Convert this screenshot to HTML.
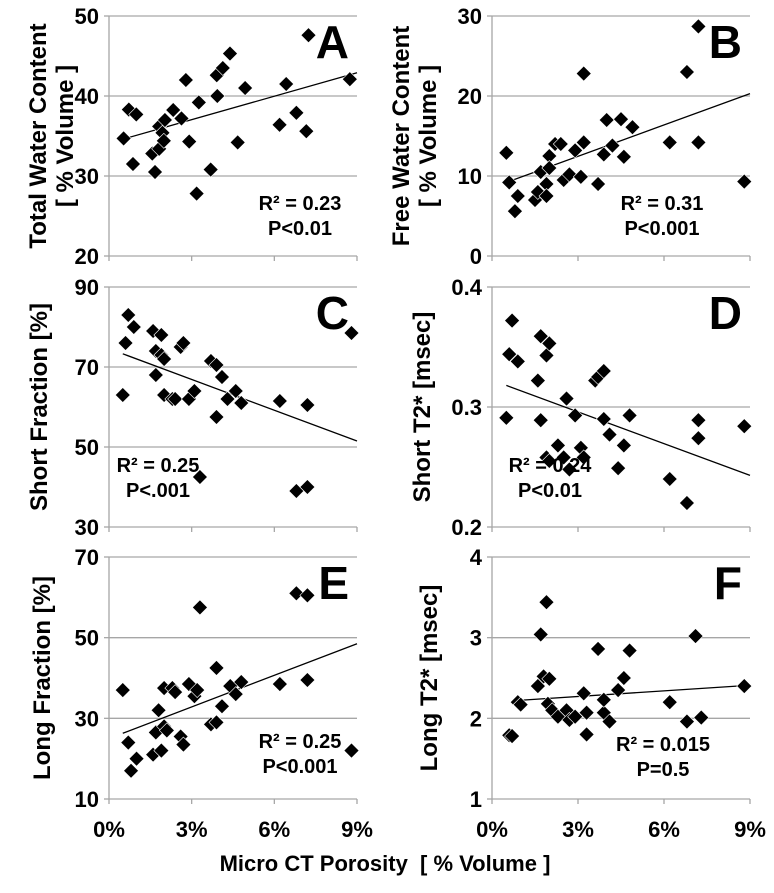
<!DOCTYPE html>
<html><head><meta charset="utf-8"><style>
body{margin:0;background:#fff;}
svg{display:block;font-family:"Liberation Sans",Arial,sans-serif;font-weight:bold;}
</style></head><body>
<svg id="c" width="774" height="893" viewBox="0 0 774 893" xmlns="http://www.w3.org/2000/svg"></svg>
<script>
const xTicks=[0,3,6,9];
const xA=[0.53,0.72,0.87,0.99,1.57,1.67,1.82,1.82,1.94,1.99,2.03,2.33,2.63,2.79,2.91,3.18,3.26,3.69,3.91,3.93,4.13,4.39,4.67,4.94,6.19,6.43,6.8,7.16,7.24,8.74];
const yA=[34.7,38.3,31.5,37.7,32.8,30.5,36.2,33.4,35.4,34.4,37,38.25,37.2,42,34.3,27.8,39.2,30.8,42.6,40,43.5,45.3,34.2,41,36.4,41.5,37.9,35.6,47.6,42.1];
const xB=[0.5,0.6,0.8,0.9,1.5,1.6,1.7,1.9,1.9,2.0,2.0,2.2,2.4,2.5,2.7,2.9,3.1,3.2,3.2,3.7,3.9,4.0,4.2,4.5,4.6,4.9,6.2,6.8,7.2,7.2,8.8];
const yB=[12.9,9.2,5.6,7.5,7.0,8.0,10.5,9.0,7.5,12.5,11.0,14.0,14.0,9.5,10.2,13.2,9.9,14.2,22.8,9.0,12.7,17.0,13.8,17.1,12.4,16.1,14.2,23.0,28.7,14.2,9.3];
const xC=[0.5,0.6,0.7,0.9,1.6,1.7,1.7,1.9,1.9,2.0,2.0,2.3,2.4,2.6,2.7,2.9,3.1,3.3,3.7,3.9,3.9,4.1,4.3,4.6,4.8,6.2,6.8,7.2,7.2,8.8];
const yC=[63,76,83,80,79,74,68,78,73,72,63,62,62,75,76,62,64,42.5,71.5,57.5,70.5,67.5,62,64,61,61.5,39,40,60.5,78.5];
const xD=[0.5,0.6,0.7,0.9,1.6,1.7,1.7,1.9,1.9,2.0,2.0,2.3,2.5,2.6,2.7,2.9,3.1,3.2,3.6,3.7,3.9,3.9,4.1,4.4,4.6,4.8,6.2,6.8,7.2,7.2,8.8];
const yD=[0.291,0.344,0.372,0.338,0.322,0.359,0.289,0.343,0.258,0.353,0.255,0.268,0.258,0.307,0.248,0.293,0.266,0.258,0.322,0.325,0.290,0.330,0.277,0.249,0.268,0.293,0.240,0.220,0.289,0.274,0.284];
const xE=[0.5,0.7,0.8,1.0,1.6,1.7,1.8,1.9,2.0,2.0,2.1,2.3,2.4,2.6,2.7,2.9,3.1,3.2,3.3,3.7,3.9,3.9,4.1,4.4,4.6,4.8,6.2,6.8,7.2,7.2,8.8];
const yE=[37,24,17,20,21,26.5,32,22,37.5,28,27,37.5,36.5,25.5,23.5,38.5,35.5,37,57.5,28.5,29,42.5,33,38,36,39,38.5,61,60.5,39.5,22];
const xF=[0.6,0.7,0.9,1.0,1.6,1.7,1.8,1.9,1.95,2.0,2.1,2.3,2.6,2.7,2.9,3.2,3.3,3.3,3.7,3.9,3.9,4.1,4.4,4.6,4.8,6.2,6.8,7.1,7.3,8.8];
const yF=[1.79,1.78,2.2,2.17,2.4,3.04,2.52,3.44,2.18,2.49,2.1,2.02,2.1,1.98,2.02,2.31,2.07,1.8,2.86,2.07,2.23,1.96,2.35,2.5,2.84,2.2,1.96,3.02,2.01,2.4];
const trendX=[[0.5,9],[0.5,9],[0.5,9],[0.5,9],[0.5,9],[0.8,9]];
const trendY=[[34.6,42.9],[9.2,20.3],[73.3,51.5],[0.318,0.243],[26.3,48.5],[2.22,2.41]];
const yTicks=[[20,30,40,50],[0,10,20,30],[30,50,70,90],[0.2,0.3,0.4],[10,30,50,70],[1,2,3,4]];
const yLabels=[["20","30","40","50"],["0","10","20","30"],["30","50","70","90"],["0.2","0.3","0.4"],["10","30","50","70"],["1","2","3","4"]];
const titles=[["Total Water Content","[ % Volume ]"],["Free Water Content","[ % Volume ]"],["Short Fraction [%]"],["Short T2* [msec]"],["Long Fraction [%]"],["Long T2* [msec]"]];
const letters=["A","B","C","D","E","F"];
const stats=[["R² = 0.23","P<0.01"],["R² = 0.31","P<0.001"],["R² = 0.25","P<.001"],["R² = 0.24","P<0.01"],["R² = 0.25","P<0.001"],["R² = 0.015","P=0.5"]];
const XS=[xA,xB,xC,xD,xE,xF], YS=[yA,yB,yC,yD,yE,yF];
const NS="http://www.w3.org/2000/svg", svg=document.getElementById('c');
function mk(t,a,p){const e=document.createElementNS(NS,t);for(const k in a)e.setAttribute(k,a[k]);(p||svg).appendChild(e);return e;}
const cols=[[109,357],[492,750]], rows=[[16,256],[287,527],[557,799]];
const statPos=[[300,210],[662,210],[158,472],[550,472],[300,748],[663,751]];
const titleX=[[46,73],[409,436],[47],[430],[50],[437]];
for(let i=0;i<6;i++){
  const c=cols[i%2], r=rows[Math.floor(i/2)];
  const yt=yTicks[i], ymin=yt[0], ymax=yt[yt.length-1];
  const sx=v=>c[0]+v/9*(c[1]-c[0]);
  const sy=v=>r[1]-(v-ymin)/(ymax-ymin)*(r[1]-r[0]);
  const g=mk('g',{});
  
  
  yt.forEach((t,j)=>{
    if(j>0){const gl=mk('line',{x1:c[0],x2:c[1],y1:sy(t),y2:sy(t),stroke:'#a6a6a6','stroke-width':1.3},g);
      }
    mk('line',{x1:c[0]-5,x2:c[0],y1:sy(t),y2:sy(t),stroke:'#a6a6a6','stroke-width':1.3},g);
    const tl=mk('text',{x:c[0]-10,y:sy(t)+8,'text-anchor':'end','font-size':22},g);tl.textContent=yLabels[i][j];
    
  });
  mk('line',{x1:c[0],x2:c[0],y1:r[0],y2:r[1],stroke:'#a6a6a6','stroke-width':1.3},g);
  mk('line',{x1:c[0],x2:c[1],y1:r[1],y2:r[1],stroke:'#a6a6a6','stroke-width':1.3},g);
  xTicks.forEach(t=>{mk('line',{x1:sx(t),x2:sx(t),y1:r[1],y2:r[1]+5,stroke:'#a6a6a6','stroke-width':1.3},g);
    if(i>=4){const xl=mk('text',{x:sx(t),y:837,'text-anchor':'middle','font-size':22},g);xl.textContent=t+'%';
      }});
  const tt=titles[i], mid=(r[0]+r[1])/2;
  tt.forEach((s,k)=>{const x=titleX[i][k];
    const te=mk('text',{x:x,y:mid,'text-anchor':'middle','font-size':24,transform:`rotate(-90 ${x} ${mid})`},g);te.textContent=s;
    });
  const tl=mk('line',{x1:sx(trendX[i][0]),x2:sx(trendX[i][1]),y1:sy(trendY[i][0]),y2:sy(trendY[i][1]),stroke:'#000','stroke-width':1.3},g);
  
  XS[i].forEach((v,j)=>{const px=sx(v),py=sy(YS[i][j]);
    const d=mk('path',{d:`M${px} ${py-7.5}L${px+7.5} ${py}L${px} ${py+7.5}L${px-7.5} ${py}Z`,fill:'#000',stroke:'#fff','stroke-width':0.6},g);
    });
  const L=mk('text',{x:c[1]-8,y:r[0]+42,'text-anchor':'end','font-size':46},g);L.textContent=letters[i];
  
  stats[i].forEach((s,k)=>{const st=mk('text',{x:statPos[i][0],y:statPos[i][1]+k*25,'text-anchor':'middle','font-size':20},g);st.textContent=s;
    });
}
const xt=mk('text',{x:385,y:871,'text-anchor':'middle','font-size':22});xt.textContent='Micro CT Porosity  [ % Volume ]';
xt.style.whiteSpace='pre';


</script>
</body></html>
